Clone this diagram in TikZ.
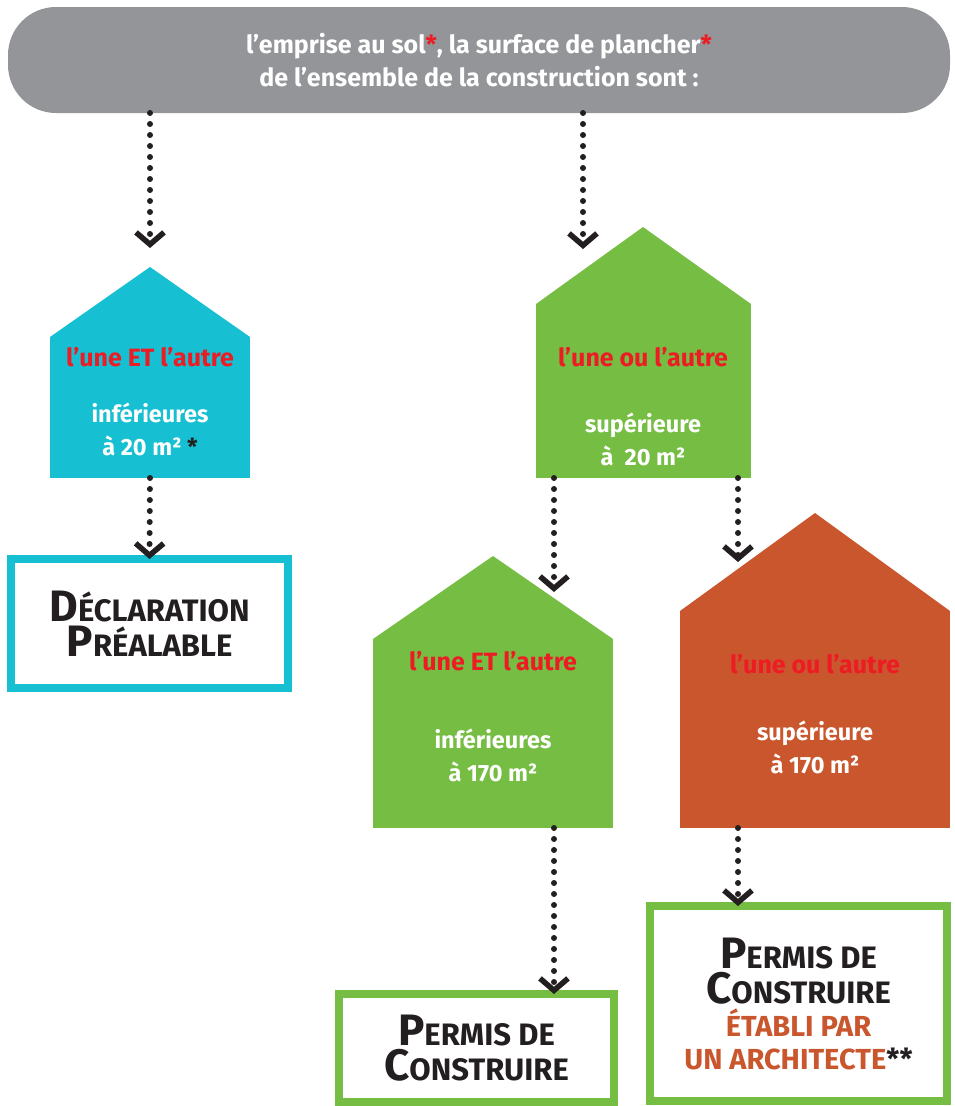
\documentclass[tikz,border=0pt]{standalone}
\usepackage{fontspec}
\setmainfont{Fira Sans}
\usetikzlibrary{arrows.meta}

\definecolor{bannergray}{HTML}{939598}
\definecolor{housecyan}{HTML}{16BFD1}
\definecolor{housegreen}{HTML}{76BD43}
\definecolor{houseorange}{HTML}{C9562C}
\definecolor{txtred}{HTML}{ED1C24}
\definecolor{ink}{HTML}{231F20}

\newcommand{\petitcap}[1]{{\fontsize{31}{34}\selectfont #1}}

\tikzset{
  body/.style={inner sep=0pt, outer sep=0pt},
  result/.style={draw, line width=8pt, fill=white, inner sep=0pt, outer sep=0pt,
    align=center, text=ink, font=\bfseries\fontsize{44}{35}\selectfont},
  flow/.style={draw=ink, line width=6pt, line cap=round, dash pattern=on 0pt off 11pt,
    -{Straight Barb[length=12pt,width=28pt,line width=5.5pt]}},
  redtxt/.style={text=txtred, font=\bfseries\fontsize{25}{28}\selectfont},
  whitetxt/.style={text=white, align=center, font=\bfseries\fontsize{23.5}{33}\selectfont}
}

\begin{document}
\begin{tikzpicture}[x=1pt,y=-1pt]
\useasboundingbox (0,0) rectangle (954,1106);

% Question banner
\node[fill=bannergray, rounded corners=48pt, minimum width=942pt, minimum height=106pt,
  inner sep=0pt, outer sep=0pt, text=white, align=center,
  font=\bfseries\fontsize{25}{33}\selectfont] (banner) at (479,60)
  {l’emprise au sol{\color{txtred}*}, la surface de plancher{\color{txtred}*}\\de l’ensemble de la construction sont :};

% Houses: body node + roof
\node[body, fill=housecyan, minimum width=200pt, minimum height=141pt] (cyan) at (150,407.5) {};
\fill[housecyan] (cyan.north west) -- (150,267) -- (cyan.north east) -- cycle;
\node[redtxt] (cyanCond) at (150,357) {l’une ET l’autre};
\node[whitetxt] (cyanVal) at (150,429) {inférieures\\à 20 m² {\color{ink}*}};

\node[body, fill=housegreen, minimum width=215pt, minimum height=174pt] (greenA) at (643.5,391) {};
\fill[housegreen] (greenA.north west) -- (643,227) -- (greenA.north east) -- cycle;
\node[redtxt] (greenACond) at (643,357) {l’une ou l’autre};
\node[whitetxt] (greenAVal) at (643,439) {supérieure\\à~ 20 m²};

\node[body, fill=housegreen, minimum width=240pt, minimum height=189pt] (greenB) at (493,733.5) {};
\fill[housegreen] (greenB.north west) -- (493,556) -- (greenB.north east) -- cycle;
\node[redtxt] (greenBCond) at (493,661) {l’une ET l’autre};
\node[whitetxt] (greenBVal) at (493,755) {inférieures\\à 170 m²};

\node[body, fill=houseorange, minimum width=270pt, minimum height=217pt] (orange) at (815,719.5) {};
\fill[houseorange] (orange.north west) -- (815,513) -- (orange.north east) -- cycle;
\node[redtxt] (orangeCond) at (815,664) {l’une ou l’autre};
\node[whitetxt] (orangeVal) at (815,747) {supérieure\\à 170 m²};

% Outcomes
\node[result, draw=housecyan, minimum width=277pt, minimum height=129pt] (decl) at (149.5,623.5)
  {D\petitcap{ÉCLARATION}\\P\petitcap{RÉALABLE}};
\node[result, draw=housegreen, minimum width=275pt, minimum height=108pt] (permis) at (476.5,1048)
  {P\petitcap{ERMIS DE}\\C\petitcap{ONSTRUIRE}};
\node[result, draw=housegreen, minimum width=297pt, minimum height=195pt] (archi) at (798.5,1003.5)
  {P\petitcap{ERMIS DE}\\C\petitcap{ONSTRUIRE}\\[-2pt]
   {\fontsize{29}{33}\selectfont\color{houseorange}ÉTABLI PAR}\\[-2pt]
   {\fontsize{29}{33}\selectfont\color{houseorange}UN ARCHITECTE{\color{ink}**}}};

% Arrow ends
\coordinate (toCyan) at (150,248);
\coordinate (toGreenA) at (583,249);
\coordinate (toGreenB) at (554,592);
\coordinate (toOrange) at (738,562);

% Dotted connectors
\draw[flow] (banner.south -| toCyan) -- (toCyan);
\draw[flow] (banner.south -| toGreenA) -- (toGreenA);
\draw[flow] (cyan.south) -- (decl.north);
\draw[flow] (greenA.south -| toGreenB) -- (toGreenB);
\draw[flow] (greenA.south -| toOrange) -- (toOrange);
\draw[flow] (greenB.south -| toGreenB) -- (permis.north -| toGreenB);
\draw[flow] (orange.south -| toOrange) -- (archi.north -| toOrange);
\end{tikzpicture}
\end{document}
